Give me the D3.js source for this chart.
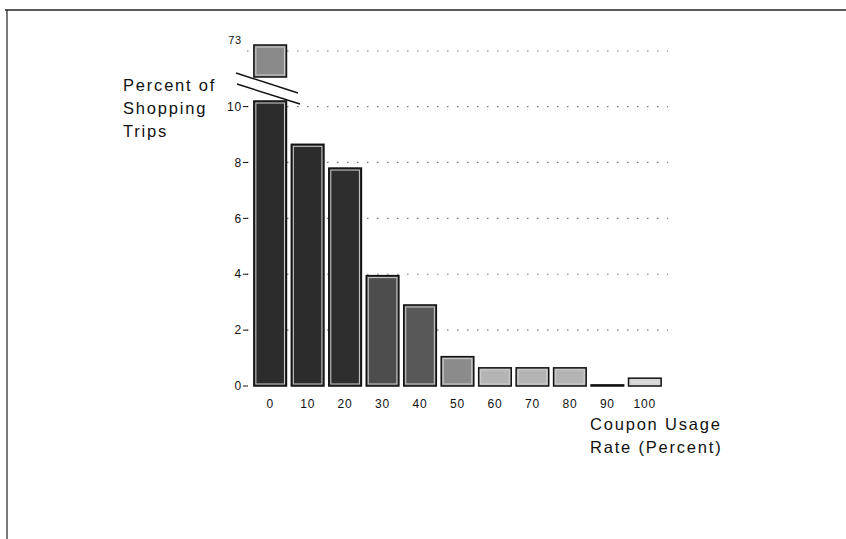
<!DOCTYPE html>
<html>
<head>
<meta charset="utf-8">
<script src="https://cdn.jsdelivr.net/npm/d3@7"></script>
<style>
  body { margin: 0; background: #fff; }
  svg { display: block; font-family: "Liberation Sans", Arial, sans-serif; }
</style>
</head>
<body>
<div id="chart"></div>
<script>
const categories = ["0", "10", "20", "30", "40", "50", "60", "70", "80", "90", "100"];
const percents = [73, 8.65, 7.8, 3.95, 2.9, 1.05, 0.65, 0.65, 0.65, 0.04, 0.28];
const lowerTicks = [0, 2, 4, 6, 8, 10];
const upperTicks = [73];

const width = 846;
const height = 539;

const svg = d3
  .select("#chart")
  .append("svg")
  .attr("width", width)
  .attr("height", height);

// page frame (top + left edge of the scanned box)
svg.append("line").attr("x1", 5).attr("x2", width).attr("y1", 10).attr("y2", 10)
  .attr("stroke", "#222").attr("stroke-width", 1.5);
svg.append("line").attr("x1", 7).attr("x2", 7).attr("y1", 10).attr("y2", height)
  .attr("stroke", "#222").attr("stroke-width", 1.2);

const xScale = d3.scaleBand().domain(categories).range([249, 666]).padding(0.13);

// broken y axis: lower part 0..10.2, upper part around 73
const yLower = d3.scaleLinear().domain([0, 10.2]).range([386, 101]);
const yUpper = d3.scaleLinear().domain([71.6, 73]).range([77, 45]);

const fill = d3.scaleLinear()
  .domain([0.3, 1, 3, 8])
  .range(["#dcdcdc", "#8c8c8c", "#555", "#2c2c2c"])
  .clamp(true);

const gridX1 = 247;
const gridX2 = 668;

// dotted gridlines
const grid = svg.append("g").attr("class", "grid");
lowerTicks.filter((t) => t > 0).forEach((t) => {
  grid.append("line")
    .attr("x1", gridX1).attr("x2", gridX2)
    .attr("y1", yLower(t)).attr("y2", yLower(t))
    .attr("stroke", "#777").attr("stroke-width", 1.2)
    .attr("stroke-dasharray", "1.5,8.5");
});
upperTicks.forEach((t) => {
  grid.append("line")
    .attr("x1", gridX1).attr("x2", gridX2)
    .attr("y1", yUpper(t) + 6).attr("y2", yUpper(t) + 6)
    .attr("stroke", "#777").attr("stroke-width", 1.2)
    .attr("stroke-dasharray", "1.5,8.5");
});

// y axis ticks and labels (no axis line)
const yAxis = svg.append("g").attr("font-size", 12).attr("fill", "#111")
  .attr("letter-spacing", 0.8);
lowerTicks.forEach((t) => {
  yAxis.append("line").attr("x1", 243).attr("x2", 248)
    .attr("y1", yLower(t)).attr("y2", yLower(t)).attr("stroke", "#111");
  yAxis.append("text").attr("x", 242).attr("y", yLower(t)).attr("dy", "0.35em")
    .attr("text-anchor", "end").text(t);
});
upperTicks.forEach((t) => {
  yAxis.append("text").attr("x", 242).attr("y", yUpper(t)).attr("dy", "-0.1em")
    .attr("font-size", 11).attr("text-anchor", "end").text(t);
});

const data = categories.map((c, i) => ({ cat: c, value: percents[i] }));

const bars = svg.append("g").attr("class", "bars");

const drawBar = (x, y0, y1, color) => {
  const w = xScale.bandwidth();
  bars.append("rect")
    .attr("x", x).attr("y", y1).attr("width", w).attr("height", Math.max(y0 - y1, 0.5))
    .attr("fill", color).attr("stroke", "#111").attr("stroke-width", 1.5);
  if (y0 - y1 > 4) {
    bars.append("rect")
      .attr("x", x + 2).attr("y", y1 + 2).attr("width", w - 4).attr("height", y0 - y1 - 4)
      .attr("fill", "none").attr("stroke", "#cfcfcf").attr("stroke-width", 1);
  }
};

data.forEach((d) => {
  const x = xScale(d.cat);
  const top = Math.min(d.value, yLower.domain()[1]);
  drawBar(x, yLower(0), yLower(top), fill(d.value));
  if (d.value > yLower.domain()[1]) {
    drawBar(x, yUpper(yUpper.domain()[0]), yUpper(d.value), "#8a8a8a");
  }
});

// break marks
const breakG = svg.append("g").attr("stroke", "#111").attr("stroke-width", 1.4);
breakG.append("line").attr("x1", 236).attr("y1", 73).attr("x2", 298).attr("y2", 93);
breakG.append("line").attr("x1", 237).attr("y1", 84).attr("x2", 300).attr("y2", 104);

// x labels
svg.append("g").attr("font-size", 12).attr("fill", "#111").attr("letter-spacing", 0.8)
  .selectAll("text").data(categories).enter().append("text")
  .attr("x", (d) => xScale(d) + xScale.bandwidth() / 2)
  .attr("y", 404).attr("dy", "0.35em").attr("text-anchor", "middle")
  .text((d) => d);

// axis titles
const yTitle = ["Percent of", "Shopping", "Trips"];
svg.append("g").attr("font-size", 16.5).attr("fill", "#111").attr("letter-spacing", 1.8)
  .selectAll("text").data(yTitle).enter().append("text")
  .attr("x", 123).attr("y", (d, i) => 85 + i * 23).attr("dy", "0.35em")
  .text((d) => d);

const xTitle = ["Coupon Usage", "Rate (Percent)"];
svg.append("g").attr("font-size", 16.5).attr("fill", "#111").attr("letter-spacing", 1.8)
  .selectAll("text").data(xTitle).enter().append("text")
  .attr("x", 590).attr("y", (d, i) => 424 + i * 23).attr("dy", "0.35em")
  .text((d) => d);
</script>
</body>
</html>
